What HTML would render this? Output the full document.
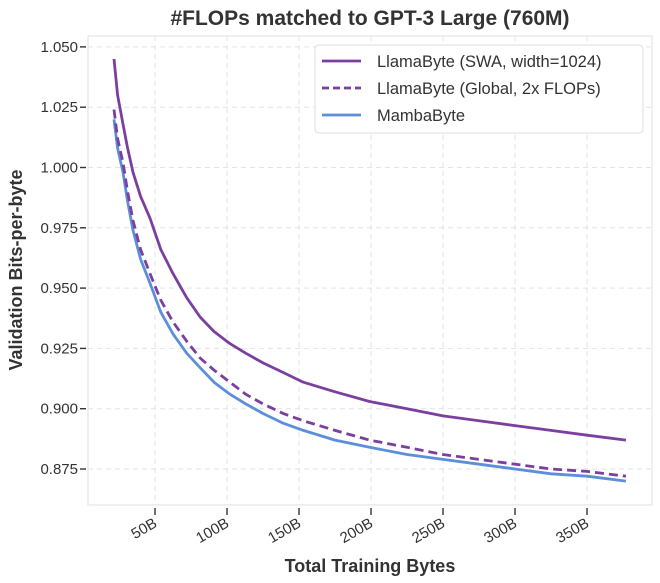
<!DOCTYPE html>
<html><head><meta charset="utf-8"><style>
body{margin:0;background:#fff;}
svg{display:block;font-family:"Liberation Sans",sans-serif;}
</style></head><body>
<svg id="c" width="660" height="583"></svg>
<script>
const xsB=[21.5,24,27.8,31,34.7,40,46.5,54,62.5,72,81.3,91,102,113,125,139,153,175,199,225,250,275,300,325,350,377];
const swa=[1.045,1.030,1.018,1.008,0.998,0.988,0.979,0.966,0.956,0.946,0.938,0.932,0.927,0.923,0.919,0.915,0.911,0.907,0.903,0.900,0.897,0.895,0.893,0.891,0.889,0.887];
const glob=[1.024,1.012,1.002,0.990,0.978,0.966,0.956,0.945,0.936,0.928,0.921,0.916,0.911,0.906,0.902,0.898,0.895,0.891,0.887,0.884,0.881,0.879,0.877,0.875,0.874,0.872];
const mamba=[1.020,1.008,0.998,0.986,0.974,0.962,0.952,0.940,0.931,0.923,0.917,0.911,0.906,0.902,0.898,0.894,0.891,0.887,0.884,0.881,0.879,0.877,0.875,0.873,0.872,0.870];
const xTicks=[50,100,150,200,250,300,350];
const xTickLabels=["50B","100B","150B","200B","250B","300B","350B"];
const yTicks=[0.875,0.9,0.925,0.95,0.975,1.0,1.025,1.05];
const yTickLabels=["0.875","0.900","0.925","0.950","0.975","1.000","1.025","1.050"];
const L=88,R=652,T=36,B=505;
const X=v=>83+v*72/50;
const Y=v=>469-(v-0.875)*60.3/0.025;
const svg=document.getElementById('c');const NS='http://www.w3.org/2000/svg';
function mk(t,a,p){const e=document.createElementNS(NS,t);for(const k in a)e.setAttribute(k,a[k]);(p||svg).appendChild(e);return e;}
let e;
e=mk('rect',{x:L,y:T,width:R-L,height:B-T,fill:'#fff',stroke:'#e6e6e6','stroke-width':1.2});

xTicks.forEach((v,i)=>{const x=X(v);
 e=mk('line',{x1:x,x2:x,y1:T,y2:B,stroke:'#e3e3e3','stroke-dasharray':'5,4'});
 
 e=mk('line',{x1:x,x2:x,y1:B+3,y2:B+10,stroke:'#333','stroke-width':1.4});
 
 e=mk('text',{x:x+3,y:B+21,'font-size':15,fill:'#333','text-anchor':'end',transform:`rotate(-30 ${x+3} ${B+21})`});
 e.textContent=xTickLabels[i];});
yTicks.forEach((v,i)=>{const y=Y(v);
 e=mk('line',{x1:L,x2:R,y1:y,y2:y,stroke:'#e3e3e3','stroke-dasharray':'5,4'});
 
 e=mk('line',{x1:L-8,x2:L-2,y1:y,y2:y,stroke:'#333','stroke-width':1.4});
 
 e=mk('text',{x:L-10,y:y+5,'font-size':15,fill:'#333','text-anchor':'end'});
 e.textContent=yTickLabels[i];});
function path(vals,col,dash,name){const d=xsB.map((v,i)=>(i?'L':'M')+X(v).toFixed(1)+','+Y(vals[i]).toFixed(1)).join('');
 const a={d:d,fill:'none',stroke:col,'stroke-width':2.8,'stroke-linejoin':'round'};if(dash)a['stroke-dasharray']=dash;
 e=mk('path',a);}
path(mamba,'#5b8fd9',null,'mambabyte-line');
path(glob,'#7b3fa0','9,5','llamabyte-global-line');
path(swa,'#7b3fa0',null,'llamabyte-swa-line');
e=mk('text',{x:370,y:25,'font-size':21,'font-weight':'bold',fill:'#333','text-anchor':'middle'});
e.textContent='#FLOPs matched to GPT-3 Large (760M)';
e=mk('text',{x:370,y:572,'font-size':18,'font-weight':'bold',fill:'#333','text-anchor':'middle'});
e.textContent='Total Training Bytes';
e=mk('text',{x:22,y:270,'font-size':18,'font-weight':'bold',fill:'#333','text-anchor':'middle',transform:'rotate(-90 22 270)'});
e.textContent='Validation Bits-per-byte';
const lg=mk('g',{});
mk('rect',{x:315,y:45,width:328,height:88,rx:4,fill:'#fff',stroke:'#ddd'},lg);
const items=[['LlamaByte (SWA, width=1024)','#7b3fa0',null],['LlamaByte (Global, 2x FLOPs)','#7b3fa0','7,4'],['MambaByte','#5b8fd9',null]];
items.forEach((it,i)=>{const y=61+i*27;const g=mk('g',{},lg);
 
 const a={x1:322,x2:361,y1:y,y2:y,stroke:it[1],'stroke-width':2.8};if(it[2])a['stroke-dasharray']=it[2];mk('line',a,g);
 const t=mk('text',{x:377,y:y+6,'font-size':16.5,fill:'#333'},g);t.textContent=it[0];});
</script>
</body></html>
